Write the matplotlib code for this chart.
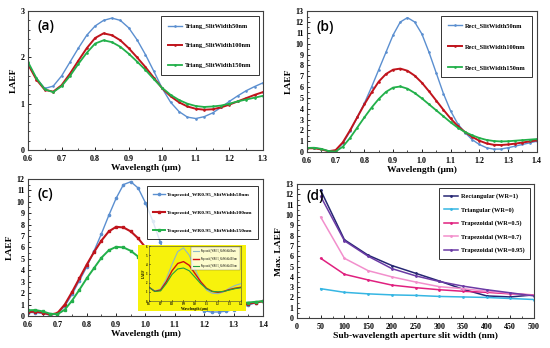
import matplotlib
matplotlib.use("Agg")
import matplotlib.pyplot as plt
from matplotlib.ticker import MultipleLocator

# ---- (a) triangular aperture ----
wl_a = [0.600, 0.625, 0.650, 0.675, 0.700, 0.725, 0.750, 0.775, 0.800, 0.825,
        0.850, 0.875, 0.900, 0.925, 0.950, 0.975, 1.000, 1.025, 1.050, 1.075,
        1.100, 1.125, 1.150, 1.175, 1.200, 1.225, 1.250, 1.275, 1.300]
tri_50 = [1.85, 1.55, 1.33, 1.38, 1.60, 1.90, 2.20, 2.48, 2.68, 2.80,
          2.85, 2.80, 2.64, 2.38, 2.06, 1.70, 1.33, 1.03, 0.83, 0.71,
          0.68, 0.72, 0.80, 0.92, 1.05, 1.17, 1.28, 1.37, 1.45]
tri_100 = [1.85, 1.52, 1.30, 1.26, 1.40, 1.65, 1.93, 2.20, 2.42, 2.52,
           2.48, 2.37, 2.20, 2.00, 1.79, 1.56, 1.33, 1.16, 1.03, 0.94,
           0.89, 0.87, 0.88, 0.92, 0.98, 1.05, 1.12, 1.19, 1.25]
tri_150 = [1.90, 1.55, 1.31, 1.25, 1.38, 1.60, 1.86, 2.10, 2.30, 2.37,
           2.33, 2.23, 2.08, 1.91, 1.73, 1.53, 1.34, 1.19, 1.08, 1.00,
           0.95, 0.93, 0.94, 0.96, 1.00, 1.05, 1.09, 1.13, 1.17]

# ---- (b) rectangular and (c) trapezoidal apertures ----
wl_bc = [0.600, 0.625, 0.650, 0.675, 0.700, 0.725, 0.750, 0.775, 0.800, 0.825,
         0.850, 0.875, 0.900, 0.925, 0.950, 0.975, 1.000, 1.025, 1.050, 1.075,
         1.100, 1.125, 1.150, 1.175, 1.200, 1.225, 1.250, 1.275, 1.300, 1.325,
         1.350, 1.375, 1.400]
rect_50 = [0.35, 0.38, 0.28, 0.08, 0.15, 0.80, 1.90, 3.20, 4.50, 6.00,
           7.60, 9.20, 10.80, 12.00, 12.40, 12.00, 10.90, 9.20, 7.30, 5.40,
           3.80, 2.60, 1.80, 1.15, 0.70, 0.40, 0.27, 0.28, 0.40, 0.55,
           0.70, 0.85, 1.00]
rect_100 = [0.35, 0.35, 0.25, 0.08, 0.18, 0.90, 2.00, 3.20, 4.40, 5.50,
            6.50, 7.20, 7.60, 7.70, 7.50, 7.05, 6.40, 5.60, 4.75, 3.90,
            3.10, 2.40, 1.85, 1.40, 1.05, 0.80, 0.67, 0.65, 0.70, 0.78,
            0.88, 0.98, 1.08]
rect_150 = [0.38, 0.40, 0.30, 0.10, 0.05, 0.50, 1.30, 2.25, 3.20, 4.10,
            4.90, 5.55, 5.95, 6.05, 5.85, 5.45, 4.95, 4.40, 3.85, 3.30,
            2.75, 2.25, 1.85, 1.55, 1.30, 1.12, 1.02, 0.98, 1.00, 1.05,
            1.10, 1.15, 1.20]
trap95_50 = [0.30, 0.30, 0.22, 0.08, 0.20, 0.85, 1.90, 3.10, 4.30, 5.70,
             7.20, 8.80, 10.30, 11.50, 11.75, 11.20, 9.90, 8.30, 6.50, 4.70,
             3.20, 2.05, 1.25, 0.75, 0.45, 0.35, 0.35, 0.42, 0.55, 0.75,
             0.95, 1.15, 1.30]
trap95_100 = [0.35, 0.38, 0.30, 0.12, 0.25, 1.00, 2.10, 3.30, 4.50, 5.60,
              6.60, 7.40, 7.80, 7.75, 7.40, 6.80, 6.00, 5.10, 4.20, 3.35,
              2.60, 1.95, 1.45, 1.05, 0.80, 0.65, 0.62, 0.68, 0.80, 0.95,
              1.08, 1.18, 1.28]
trap95_150 = [0.50, 0.52, 0.40, 0.20, 0.15, 0.55, 1.35, 2.30, 3.30, 4.20,
              5.10, 5.75, 6.05, 6.00, 5.70, 5.20, 4.60, 3.95, 3.30, 2.70,
              2.15, 1.70, 1.35, 1.10, 0.95, 0.90, 0.92, 0.98, 1.05, 1.12,
              1.18, 1.24, 1.30]

# ---- inset of (c): trapezoid WR0.5 ----
wl_in = [0.60, 0.65, 0.70, 0.75, 0.80, 0.85, 0.90, 0.95, 1.00, 1.05,
         1.10, 1.15, 1.20, 1.25, 1.30, 1.35, 1.40]
trap5_50 = [1.5, 1.1, 1.3, 2.4, 4.0, 5.4, 5.8, 5.0, 3.5, 2.1,
            1.2, 0.85, 0.8, 1.0, 1.4, 1.7, 1.9]
trap5_100 = [1.5, 1.05, 1.2, 2.1, 3.3, 4.1, 4.3, 3.9, 3.0, 2.1,
             1.4, 1.05, 0.95, 1.05, 1.25, 1.4, 1.5]
trap5_150 = [1.5, 1.05, 1.1, 1.9, 2.9, 3.5, 3.6, 3.3, 2.6, 1.9,
             1.35, 1.05, 1.0, 1.05, 1.2, 1.35, 1.45]

# ---- (d) maximum LAEF versus slit width ----
slit_nm = [50, 100, 150, 200, 250, 300, 350, 400, 450, 500]
max_rect = [12.4, 7.6, 6.1, 5.1, 4.35, 3.6, 2.8, 2.15, 2.05, 2.25]
max_tri = [2.85, 2.5, 2.35, 2.25, 2.2, 2.1, 2.05, 2.0, 1.9, 1.8]
max_wr05 = [5.8, 4.25, 3.7, 3.2, 2.95, 2.75, 2.6, 2.5, 2.35, 2.25]
max_wr07 = [9.8, 5.8, 4.6, 4.0, 3.5, 3.05, 2.85, 2.6, 2.4, 2.2]
max_wr095 = [11.8, 7.5, 6.0, 4.8, 4.1, 3.55, 3.1, 2.75, 2.45, 2.15]

BLUE, RED, GREEN = "#5b8fd0", "#c0141c", "#22b04a"
SERIF = "Liberation Serif"
LETTER = "Open Sans"

fig = plt.figure(figsize=(5.5, 3.48), dpi=100)


def bold_ticklabels(ax):
    for lab in ax.get_xticklabels() + ax.get_yticklabels():
        lab.set_fontfamily(SERIF)
        lab.set_fontweight("bold")


def style_axes(ax, xmaj, xmin, ymaj, ymin, fs=5.8):
    ax.xaxis.set_major_locator(MultipleLocator(xmaj))
    ax.xaxis.set_minor_locator(MultipleLocator(xmin))
    ax.yaxis.set_major_locator(MultipleLocator(ymaj))
    ax.yaxis.set_minor_locator(MultipleLocator(ymin))
    ax.tick_params(which="both", direction="in", top=False, right=False,
                   labelsize=fs)
    ax.tick_params(axis="x", pad=3.5)
    ax.tick_params(axis="y", pad=2.5)
    ax.tick_params(which="major", length=2.5, width=0.6)
    ax.tick_params(which="minor", length=1.5, width=0.5)
    bold_ticklabels(ax)
    for s in ax.spines.values():
        s.set_linewidth(0.8)
        s.set_color("#404040")


def add_legend(ax, anchor, fs=4.6, spacing=2.3, pad=1.1):
    leg = ax.legend(loc="upper right", bbox_to_anchor=anchor, frameon=True,
                    fancybox=False, edgecolor="black", handlelength=2.2,
                    labelspacing=spacing, borderpad=pad, handletextpad=0.4,
                    prop={"family": SERIF, "weight": "bold", "size": fs})
    leg.get_frame().set_linewidth(0.7)
    return leg


def one_decimal_x(ax, lo, hi):
    ax.set_xticks(ax.get_xticks())
    ax.set_xticklabels([f"{t:.1f}" for t in ax.get_xticks()])
    ax.set_xlim(lo, hi)
    bold_ticklabels(ax)


lab_kw = dict(family=SERIF, weight="bold", size=6.8)
line_kw = dict(marker="o", ms=0.9)

# (a)
ax_a = fig.add_axes([0.051, 0.569, 0.427, 0.399])
ax_a.plot(wl_a, tri_50, color=BLUE, lw=1.0, label="Triang_SlitWidth50nm", **line_kw)
ax_a.plot(wl_a, tri_100, color=RED, lw=1.4, label="Triang_SlitWidth100nm", **line_kw)
ax_a.plot(wl_a, tri_150, color=GREEN, lw=1.3, label="Triang_SlitWidth150nm", **line_kw)
ax_a.set_ylim(0, 3)
style_axes(ax_a, 0.1, 0.05, 1, 0.2)
one_decimal_x(ax_a, 0.6, 1.3)
ax_a.set_xlabel("Wavelength (\u03bcm)", labelpad=1, **lab_kw)
ax_a.set_ylabel("LAEF", labelpad=2, **lab_kw)
ax_a.text(0.04, 0.94, "(a)", transform=ax_a.transAxes, fontsize=10,
          family=LETTER, weight="semibold", va="top")
add_legend(ax_a, (0.995, 0.985), spacing=2.2)

# (b)
ax_b = fig.add_axes([0.558, 0.563, 0.418, 0.405])
ax_b.plot(wl_bc, rect_50, color=BLUE, lw=1.0, label="Rect_SlitWidth50nm", **line_kw)
ax_b.plot(wl_bc, rect_100, color=RED, lw=1.4, label="Rect_SlitWidth100nm", **line_kw)
ax_b.plot(wl_bc, rect_150, color=GREEN, lw=1.3, label="Rect_SlitWidth150nm", **line_kw)
ax_b.set_ylim(0, 13)
style_axes(ax_b, 0.1, 0.05, 1, 0.5)
one_decimal_x(ax_b, 0.6, 1.4)
ax_b.set_xlabel("Wavelength (\u03bcm)", labelpad=1, **lab_kw)
ax_b.set_ylabel("LAEF", labelpad=2, **lab_kw)
ax_b.text(0.04, 0.94, "(b)", transform=ax_b.transAxes, fontsize=10,
          family=LETTER, weight="semibold", va="top")
add_legend(ax_b, (0.995, 0.99), spacing=2.4)

# (c)
ax_c = fig.add_axes([0.051, 0.092, 0.427, 0.394])
ax_c.plot(wl_bc, trap95_50, color=BLUE, lw=1.0, marker="o", ms=1.6,
          label="Trapezoid_WR0.95_SlitWidth50nm")
ax_c.plot(wl_bc, trap95_100, color=RED, lw=1.5, marker="s", ms=1.6,
          label="Trapezoid_WR0.95_SlitWidth100nm")
ax_c.plot(wl_bc, trap95_150, color=GREEN, lw=1.4, marker="s", ms=1.6,
          label="Trapezoid_WR0.95_SlitWidth150nm")
ax_c.set_ylim(0, 12)
style_axes(ax_c, 0.1, 0.05, 1, 0.5)
one_decimal_x(ax_c, 0.6, 1.4)
ax_c.set_xlabel("Wavelength (\u03bcm)", labelpad=1, **lab_kw)
ax_c.set_ylabel("LAEF", labelpad=2, **lab_kw)
ax_c.text(0.04, 0.94, "(c)", transform=ax_c.transAxes, fontsize=10,
          family=LETTER, weight="semibold", va="top")
add_legend(ax_c, (0.99, 0.965), fs=3.9, spacing=2.5, pad=1.0)

# yellow inset panel inside (c)
ax_bg = fig.add_axes([0.251, 0.106, 0.196, 0.190])
ax_bg.set_facecolor("#f7f20c")
ax_bg.set_xticks([])
ax_bg.set_yticks([])
for s in ax_bg.spines.values():
    s.set_visible(False)

ax_in = fig.add_axes([0.271, 0.135, 0.167, 0.158])
ax_in.set_facecolor("#f7f20c")
ax_in.plot(wl_in, trap5_50, color="#8fb8c8", lw=0.8,
           label="Trapezoid_WR0.5_SlitWidth50nm")
ax_in.plot(wl_in, trap5_100, color="#d01010", lw=1.0,
           label="Trapezoid_WR0.5_SlitWidth100nm")
ax_in.plot(wl_in, trap5_150, color="#20a040", lw=0.8,
           label="Trapezoid_WR0.5_SlitWidth150nm")
ax_in.set_ylim(0, 6)
style_axes(ax_in, 0.1, 0.1, 1, 1, fs=2.2)
one_decimal_x(ax_in, 0.6, 1.4)
ax_in.tick_params(labelsize=2.2, pad=1, length=1)
ax_in.set_xlabel("Wavelength (\u03bcm)", labelpad=0.5, family=SERIF,
                 weight="bold", size=2.6)
ax_in.set_ylabel("LAEF", labelpad=0.5, family=SERIF, weight="bold", size=2.6)
for s in ax_in.spines.values():
    s.set_linewidth(0.4)
leg_in = ax_in.legend(loc="upper right", frameon=True, fancybox=False,
                      edgecolor="#606060", facecolor="white",
                      prop={"family": SERIF, "size": 1.8},
                      handlelength=2.5, labelspacing=1.4, borderpad=0.8)
leg_in.get_frame().set_linewidth(0.3)

# (d)
ax_d = fig.add_axes([0.54, 0.086, 0.431, 0.385])
d_kw = dict(lw=1.1, marker="o", ms=1.0)
ax_d.plot(slit_nm, max_rect, color="#262673", label="Rectangular (WR=1)", **d_kw)
ax_d.plot(slit_nm, max_tri, color="#36b6e3", label="Triangular (WR=0)", **d_kw)
ax_d.plot(slit_nm, max_wr05, color="#e0207f", label="Trapezoidal (WR=0.5)", **d_kw)
ax_d.plot(slit_nm, max_wr07, color="#f28fcc", label="Trapezoidal (WR=0.7)", **d_kw)
ax_d.plot(slit_nm, max_wr095, color="#6b3aa5", label="Trapezoidal (WR=0.95)", **d_kw)
ax_d.set_xlim(0, 500)
ax_d.set_ylim(0, 13)
style_axes(ax_d, 50, 25, 1, 0.5)
ax_d.set_xlabel("Sub-wavelength aperture slit width (nm)", labelpad=1, **lab_kw)
ax_d.set_ylabel("Max. LAEF", labelpad=2, **lab_kw)
ax_d.text(0.04, 0.96, "(d)", transform=ax_d.transAxes, fontsize=10,
          family=LETTER, weight="semibold", va="top")
add_legend(ax_d, (0.998, 0.998), fs=4.6, spacing=1.2, pad=0.9)

fig.savefig("out.png", dpi=100)
